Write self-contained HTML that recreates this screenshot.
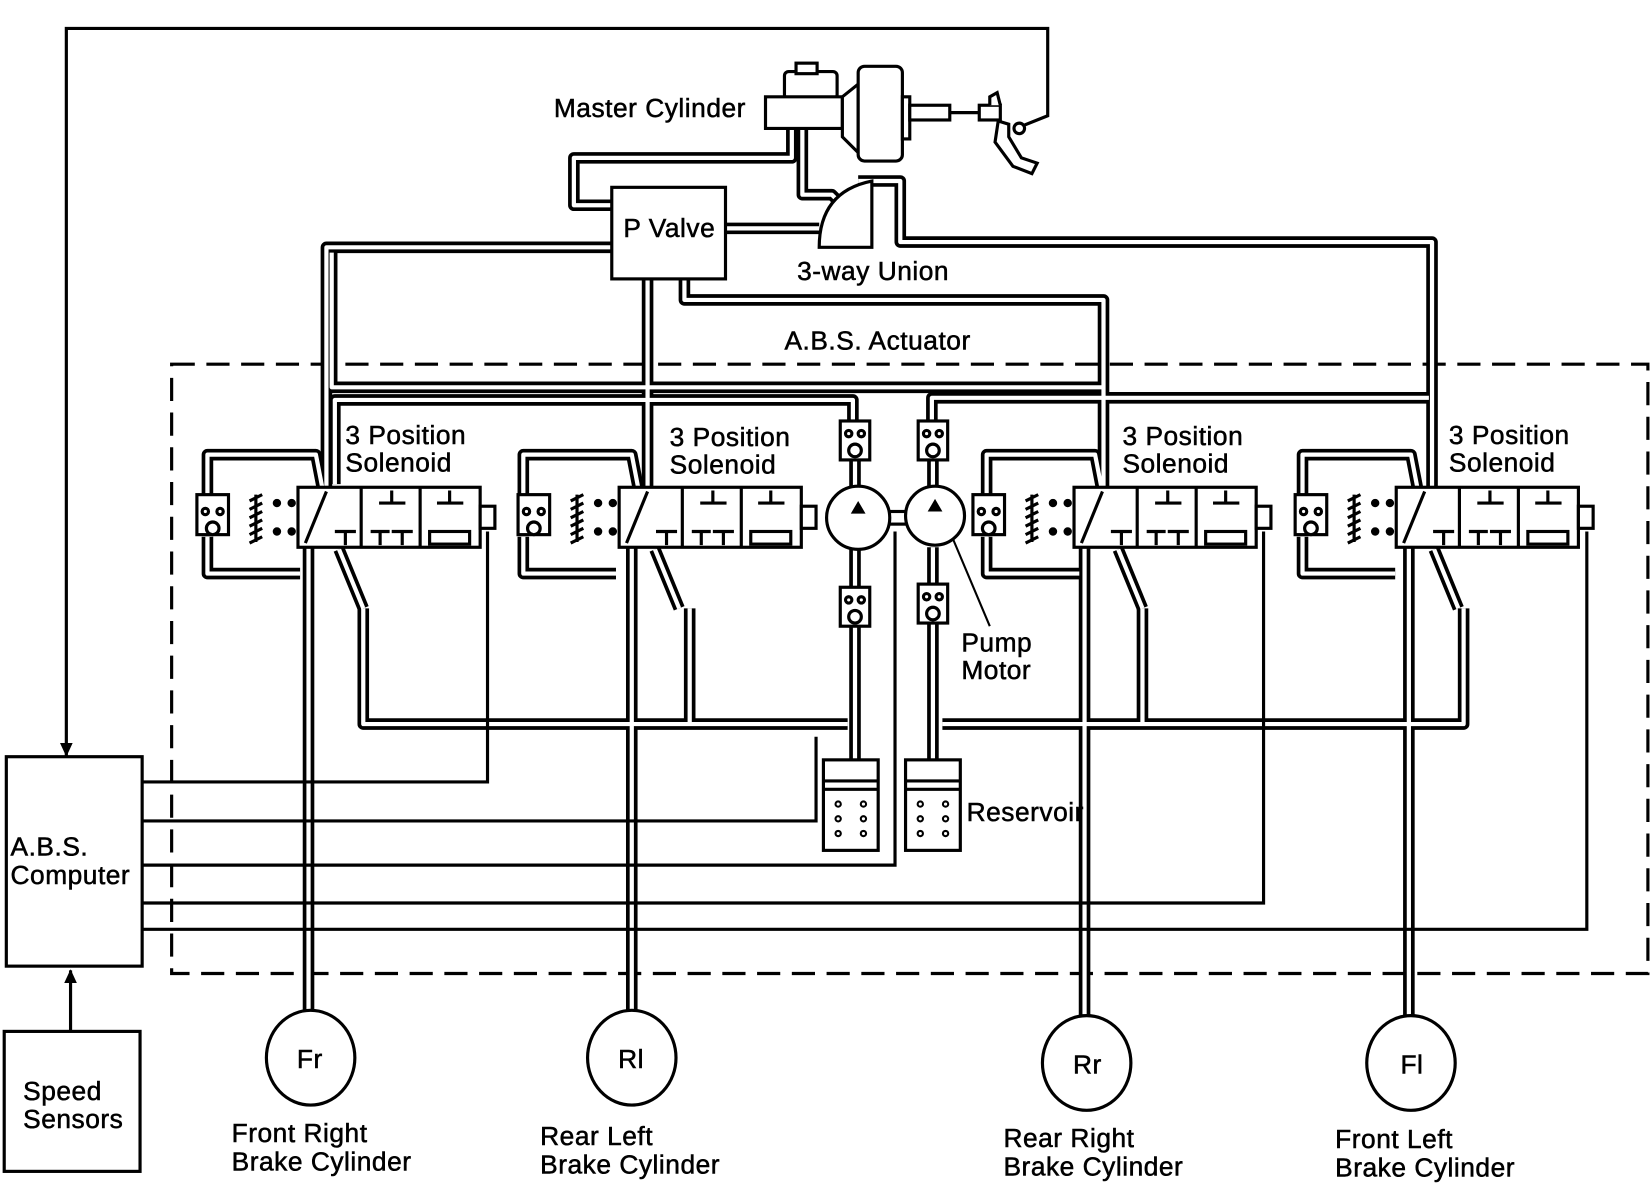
<!DOCTYPE html>
<html><head><meta charset="utf-8"><style>
html,body{margin:0;padding:0;background:#fff;}
svg{display:block;}
text{font-family:"Liberation Sans",sans-serif;font-size:25px;fill:#000;stroke:#000;stroke-width:0.5px;letter-spacing:0.5px;}
</style></head><body>
<svg width="1650" height="1184" viewBox="0 0 1567 1125" preserveAspectRatio="none" xmlns="http://www.w3.org/2000/svg">
<defs>
<g id="uloop" fill="none" stroke-linejoin="round"><path d="M197 470 V432 H300 L306 463"/><path d="M197 510 V545 H285"/><path d="M322 522 L345 578"/></g>
<g id="pipes" fill="none" stroke-linejoin="round">
 <path d="M752 120 V150 H545 V195 H581"/>
 <path d="M762 120 V185 H790 L800 195"/>
 <path d="M689 217 H778"/>
 <path d="M815 172 H855 V230 H1360 V463"/>
 <path d="M581 235 H310 V463"/>
 <path d="M315 240 V368 H1048"/>
 <path d="M650 265 V285 H1048 V463"/>
 <path d="M615 265 V463"/>
 <path d="M318 460 V380 H810 V400"/>
 <path d="M885 400 V378 H1357"/>
 <path d="M812 437 V462"/><path d="M812 522 V558"/>
 <path d="M886 437 V462"/><path d="M886 520 V555"/>
 <path d="M812 595 V722"/><path d="M886 592 V722"/>
 <path d="M345 578 V688 H805"/><path d="M655 578 V688"/>
 <path d="M895 688 H1390 V578"/><path d="M1085 578 V688"/>
 <path d="M293 520 V963"/><path d="M600 520 V963"/><path d="M1030 520 V966"/><path d="M1338 520 V966"/>
 <use href="#uloop"/><use href="#uloop" x="300"/><use href="#uloop" x="740"/><use href="#uloop" x="1040"/>
</g>
<g id="unit" stroke="#000" fill="#fff" stroke-width="3">
 <rect x="283" y="463" width="173" height="57"/>
 <line x1="343" y1="463" x2="343" y2="520"/><line x1="399" y1="463" x2="399" y2="520"/>
 <line x1="290" y1="516" x2="310" y2="467"/>
 <path d="M360 478 H385 M372 466 V478 M415 478 H440 M427 466 V478 M318 505 H338 M328 505 V518 M352 505 H370 M361 505 V518 M372 505 H392 M382 505 V518" fill="none"/>
 <rect x="408" y="505" width="38" height="12" fill="#fff"/>
 <rect x="456" y="481" width="14" height="21"/>
 <path d="M243 470 V515 M237 476 L249 470 M237 484 L249 478 M237 492 L249 486 M237 500 L249 494 M237 508 L249 502 M237 516 L249 510" fill="none"/>
 <circle cx="263" cy="478" r="2.5" fill="#000"/><circle cx="263" cy="505" r="2.5" fill="#000"/><circle cx="277" cy="478" r="2.5" fill="#000"/><circle cx="277" cy="505" r="2.5" fill="#000"/>
 <rect x="187" y="470" width="30" height="38"/>
 <circle cx="195" cy="486" r="3"/><circle cx="209" cy="486" r="3"/><circle cx="202" cy="502" r="6"/>
</g>
<g id="cv" stroke="#000" fill="#fff" stroke-width="3">
 <rect x="0" y="0" width="28" height="37"/><circle cx="8" cy="12" r="3"/><circle cx="20" cy="12" r="3"/><circle cx="14" cy="28" r="6"/>
</g>
<g id="res" stroke="#000" fill="#fff" stroke-width="3">
 <rect x="0" y="0" width="52" height="86"/><line x1="0" y1="20" x2="52" y2="20"/><line x1="0" y1="28" x2="52" y2="28"/>
 <g fill="none" stroke-width="2"><circle cx="14" cy="42" r="2.5"/><circle cx="38" cy="42" r="2.5"/><circle cx="14" cy="56" r="2.5"/><circle cx="38" cy="56" r="2.5"/><circle cx="14" cy="70" r="2.5"/><circle cx="38" cy="70" r="2.5"/></g>
</g>
</defs>

<path d="M63 718 V27 H995 V110 L965 122" fill="none" stroke="#000" stroke-width="3"/>
<path d="M57 706 L63 719 L69 706 Z" fill="#000"/>

<rect x="163" y="346" width="1402" height="579" fill="none" stroke="#000" stroke-width="3" stroke-dasharray="22,11"/>

<use href="#pipes" stroke="#000" stroke-width="11"/>
<use href="#pipes" stroke="#fff" stroke-width="4"/>

<use href="#unit"/>
<use href="#unit" x="305"/>
<use href="#unit" x="737"/>
<use href="#unit" x="1043"/>

<rect x="840" y="486" width="25" height="12" fill="#fff" stroke="#000" stroke-width="3"/>
<circle cx="815" cy="492" r="30" fill="#fff" stroke="#000" stroke-width="3"/>
<circle cx="888" cy="490" r="28" fill="#fff" stroke="#000" stroke-width="3"/>
<path d="M808 488 L815 476 L822 488 Z M881 486 L888 474 L895 486 Z" fill="#000"/>
<use href="#cv" x="798" y="400"/><use href="#cv" x="872" y="400"/>
<use href="#cv" x="798" y="558"/><use href="#cv" x="872" y="555"/>
<use href="#res" x="782" y="722"/><use href="#res" x="860" y="722"/>
<line x1="905" y1="512" x2="940" y2="595" stroke="#000" stroke-width="2"/>

<g fill="none" stroke="#000" stroke-width="3">
<path d="M135 743 H463 V505"/>
<path d="M135 780 H775 V700"/>
<path d="M135 822 H850 V505"/>
<path d="M135 858 H1200 V505"/>
<path d="M135 883 H1507 V505"/>
<path d="M67 980 V922"/>
</g>
<path d="M61 934 L67 921 L73 934 Z" fill="#000"/>

<rect x="6" y="719" width="129" height="199" fill="#fff" stroke="#000" stroke-width="3"/>
<rect x="4" y="980" width="129" height="133" fill="#fff" stroke="#000" stroke-width="3"/>
<rect x="581" y="178" width="108" height="87" fill="#fff" stroke="#000" stroke-width="3"/>

<path d="M778 235 Q778 182 828 172 V235 Z" fill="#fff" stroke="#000" stroke-width="3"/>

<g stroke="#000" stroke-width="3" fill="#fff">
<rect x="745" y="68" width="50" height="26" rx="4"/>
<rect x="756" y="60" width="20" height="10"/>
<path d="M727 92 H800 V122 H727 Z"/>
<path d="M800 92 L815 80 V145 L800 130 Z"/>
<rect x="815" y="63" width="42" height="90" rx="6"/>
<rect x="857" y="92" width="7" height="40"/>
<rect x="864" y="100" width="38" height="14"/>
<line x1="902" y1="107" x2="930" y2="107"/>
<rect x="930" y="100" width="20" height="14"/>
<path d="M940 100 V92 L947 88 L950 100" />
<path d="M948 115 L945 135 L962 158 L980 165 L985 155 L970 150 L958 130 L958 118 Z"/>
<circle cx="968" cy="122" r="5"/>
</g>

<g fill="#fff" stroke="#000" stroke-width="3">
<ellipse cx="295" cy="1005" rx="42" ry="45"/>
<ellipse cx="600" cy="1005" rx="42" ry="45"/>
<ellipse cx="1032" cy="1010" rx="42" ry="45"/>
<ellipse cx="1340" cy="1010" rx="42" ry="45"/>
</g>

<text x="526" y="111">Master Cylinder</text>
<text x="592" y="225">P Valve</text>
<text x="757" y="266">3-way Union</text>
<text x="745" y="332">A.B.S. Actuator</text>
<text x="328" y="422">3 Position</text><text x="328" y="448">Solenoid</text>
<text x="636" y="424">3 Position</text><text x="636" y="450">Solenoid</text>
<text x="1066" y="423">3 Position</text><text x="1066" y="449">Solenoid</text>
<text x="1376" y="422">3 Position</text><text x="1376" y="448">Solenoid</text>
<text x="913" y="619">Pump</text><text x="913" y="645">Motor</text>
<text x="918" y="780">Reservoir</text>
<text x="10" y="813">A.B.S.</text><text x="10" y="840">Computer</text>
<text x="22" y="1045">Speed</text><text x="22" y="1072">Sensors</text>
<text x="282" y="1015" font-size="22">Fr</text>
<text x="587" y="1015" font-size="22">Rl</text>
<text x="1019" y="1020" font-size="22">Rr</text>
<text x="1330" y="1020" font-size="22">Fl</text>
<text x="220" y="1085">Front Right</text><text x="220" y="1112">Brake Cylinder</text>
<text x="513" y="1088">Rear Left</text><text x="513" y="1115">Brake Cylinder</text>
<text x="953" y="1090">Rear Right</text><text x="953" y="1117">Brake Cylinder</text>
<text x="1268" y="1091">Front Left</text><text x="1268" y="1118">Brake Cylinder</text>
</svg>
</body></html>
